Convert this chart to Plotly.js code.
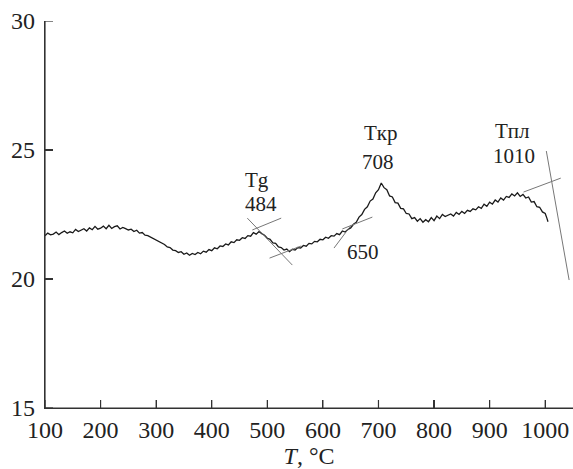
<!DOCTYPE html>
<html>
<head>
<meta charset="utf-8">
<script src="https://cdn.plot.ly/plotly-3.0.1.min.js"></script>
<style>html,body{margin:0;padding:0;background:#fff;}#chart{width:573px;height:469px;}</style>
</head>
<body>
<div id="chart"></div>
<script>
// Temperature, °C
var temperature = [100,105,110,115,120,125,130,135,140,145,150,155,160,165,170,175,180,185,190,195,
200,205,210,215,220,225,230,235,240,245,250,255,260,265,270,275,280,285,290,295,
300,305,310,315,320,325,330,335,340,345,350,355,360,365,370,375,380,385,390,395,
400,405,410,415,420,425,430,435,440,445,450,455,460,465,470,475,480,485,490,495,
500,505,510,515,520,525,530,535,540,545,550,555,560,565,570,575,580,585,590,595,
600,605,610,615,620,625,630,635,640,645,650,655,660,665,670,675,680,685,690,695,
700,705,710,715,720,725,730,735,740,745,750,755,760,765,770,775,780,785,790,795,
800,805,810,815,820,825,830,835,840,845,850,855,860,865,870,875,880,885,890,895,
900,905,910,915,920,925,930,935,940,945,950,955,960,965,970,975,980,985,990,995,
1000,1003,1005];
// Signal values
var signal = [21.68,21.78,21.71,21.74,21.82,21.72,21.80,21.86,21.77,21.83,21.79,21.92,21.84,21.88,21.95,21.86,21.98,21.91,22.04,21.93,
21.97,22.05,21.95,22.08,21.96,22.03,22.06,21.94,22.00,21.95,21.90,21.93,21.84,21.89,21.78,21.80,21.70,21.68,21.62,21.58,
21.49,21.46,21.38,21.34,21.24,21.22,21.12,21.10,21.03,21.06,20.96,21.01,20.92,20.99,20.95,21.03,20.98,21.08,21.04,21.14,
21.10,21.21,21.17,21.28,21.26,21.36,21.32,21.44,21.41,21.52,21.50,21.60,21.57,21.68,21.66,21.80,21.74,21.84,21.76,21.70,
21.58,21.54,21.40,21.38,21.24,21.22,21.12,21.16,21.06,21.15,21.12,21.22,21.20,21.30,21.27,21.38,21.36,21.46,21.44,21.54,
21.52,21.62,21.58,21.68,21.66,21.76,21.72,21.86,21.82,21.92,21.98,22.12,22.20,22.40,22.50,22.70,22.80,23.02,23.10,23.34,
23.46,23.72,23.54,23.46,23.22,23.18,22.96,22.94,22.74,22.72,22.54,22.52,22.34,22.38,22.24,22.34,22.20,22.30,22.22,22.38,
22.26,22.44,22.34,22.50,22.42,22.46,22.52,22.44,22.58,22.50,22.62,22.54,22.66,22.62,22.72,22.68,22.80,22.74,22.90,22.82,
22.98,22.90,23.06,22.98,23.14,23.06,23.20,23.16,23.30,23.22,23.34,23.20,23.28,23.14,23.18,22.98,23.00,22.80,22.78,22.60,
22.54,22.36,22.22];

// Tangent construction lines
var tgSteepX = [464, 545], tgSteepY = [22.36, 20.54];
var tgUpperX = [473, 525], tgUpperY = [21.90, 22.36];
var tgLowerX = [504, 561], tgLowerY = [20.81, 21.28];
var onsetSteepX = [620, 651], onsetSteepY = [21.20, 22.09];
var onsetShallowX = [635, 689], onsetShallowY = [21.94, 22.40];
var meltSteepX = [1002, 1043], meltSteepY = [24.96, 19.96];
var meltShallowX = [961, 1028], meltShallowY = [23.37, 23.91];

// Labels
var labelText = ['Tg', '484', 'Tкр', '708', '650', 'Tпл', '1010'];
var labelX = [482, 489, 705, 700, 672, 942, 943];
var labelY = [23.84, 22.89, 25.66, 24.53, 21.05, 25.74, 24.77];

var xTicks = [100,200,300,400,500,600,700,800,900,1000];
var yTicks = [15,20,25,30];

var serif = 'Liberation Serif, Times New Roman, serif';
var axisColor = '#333';
var lineStyle = {color: '#777', width: 1};
function seg(x, y) {
  return {x: x, y: y, type: 'scatter', mode: 'lines', line: lineStyle, hoverinfo: 'skip', showlegend: false};
}
var traces = [
  {x: temperature, y: signal, type: 'scatter', mode: 'lines', line: {color: '#1a1a1a', width: 1.3}, showlegend: false},
  seg(tgSteepX, tgSteepY), seg(tgUpperX, tgUpperY), seg(tgLowerX, tgLowerY),
  seg(onsetSteepX, onsetSteepY), seg(onsetShallowX, onsetShallowY),
  seg(meltSteepX, meltSteepY), seg(meltShallowX, meltShallowY)
];

var annotations = labelText.map(function (t, i) {
  return {x: labelX[i], y: labelY[i], xref: 'x', yref: 'y', text: t, showarrow: false,
    font: {family: serif, size: 21, color: '#222'}};
});

// Axis frame and inside tick marks drawn as shapes, positioned through the axes
var shapes = [
  {type: 'line', xref: 'paper', yref: 'paper', x0: 0, x1: 0, y0: 0, y1: 1, line: {color: axisColor, width: 1.2}, layer: 'above'},
  {type: 'line', xref: 'paper', yref: 'paper', x0: 0, x1: 1, y0: 0, y1: 0, line: {color: axisColor, width: 1.2}, layer: 'above'}
];
xTicks.forEach(function (v) {
  shapes.push({type: 'line', xref: 'x', yref: 'paper', ysizemode: 'pixel', yanchor: 0,
    x0: v, x1: v, y0: 0, y1: 8, line: {color: axisColor, width: 1.2}, layer: 'above'});
});
yTicks.forEach(function (v) {
  shapes.push({type: 'line', xref: 'paper', yref: 'y', xsizemode: 'pixel', xanchor: 0,
    x0: 0, x1: 8, y0: v, y1: v, line: {color: axisColor, width: 1.2}, layer: 'above'});
});

var layout = {
  width: 573, height: 469,
  margin: {l: 45, r: 0, t: 21, b: 61},
  showlegend: false,
  font: {family: serif, color: '#222'},
  xaxis: {
    range: [100, 1050], tickvals: xTicks,
    ticks: 'inside', ticklen: 8, tickwidth: 1.2, tickcolor: axisColor,
    showline: true, linecolor: axisColor, linewidth: 1.2,
    showgrid: false, zeroline: false,
    tickfont: {family: serif, size: 24, color: '#222'},
    title: {text: '<i>T</i>, °C', font: {family: serif, size: 24, color: '#222'}, standoff: 2}
  },
  yaxis: {
    range: [15, 30], tickvals: yTicks,
    ticks: 'inside', ticklen: 8, tickwidth: 1.2, tickcolor: axisColor,
    showline: true, linecolor: axisColor, linewidth: 1.2,
    showgrid: false, zeroline: false, ticklabelstandoff: 4,
    tickfont: {family: serif, size: 24, color: '#222'}
  },
  shapes: shapes,
  annotations: annotations
};

Plotly.newPlot('chart', traces, layout, {displayModeBar: false, staticPlot: true});
</script>
</body>
</html>
